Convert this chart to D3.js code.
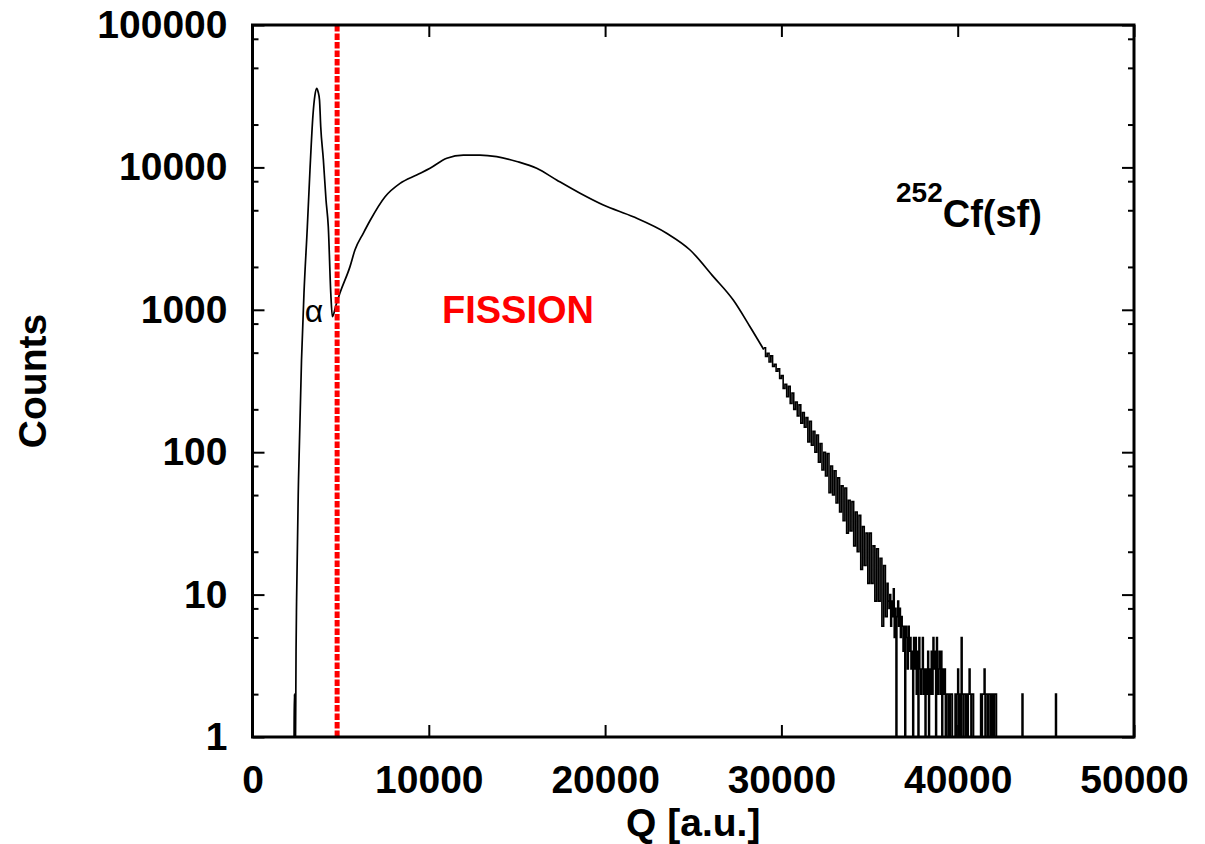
<!DOCTYPE html>
<html>
<head>
<meta charset="utf-8">
<title>252Cf(sf) charge spectrum</title>
<script src="https://cdn.jsdelivr.net/npm/d3@7"></script>
<style>
  body { margin: 0; background: #fff; }
  text { font-family: "Liberation Sans", Arial, Helvetica, sans-serif; }
</style>
</head>
<body>
<script>
// smooth part of the spectrum
var smoothQ = [2360, 2365, 2385, 2390, 2440, 2470, 2500, 2610, 2780, 2920, 3110, 3260, 3430, 3540, 3640, 3720, 3800, 3870,
  4020, 4170, 4300, 4440, 4530, 4740, 4960, 5530, 5810, 6290, 6670, 7520, 8370, 9310, 10070, 11020, 11960, 12900,
  13850, 14990, 16120, 17250, 18580, 19900, 21600, 23490, 24820, 26140, 27270, 28220, 29000];
var smoothCounts = [1, 2, 2, 1, 1, 4, 9, 64, 444, 1310, 3810, 9590, 23300, 32000, 35900, 34000, 29800, 19300,
  11300, 5900, 3810, 1310, 895, 1080, 1310, 2010, 2630, 3460, 4240, 6230, 7730, 8850, 9860, 11600, 12200, 12200,
  11900, 11000, 9860, 8160, 6580, 5440, 4500, 3450, 2630, 1710, 1170, 760, 525];

// noisy tail, binned
var tailAStart = 29000, tailAWidth = 100;
var tailACounts = [
  540, 470, 495, 430, 475, 400, 415, 370, 385, 330,
  345, 280, 300, 245, 290, 220, 260, 200, 225, 180,
  215, 160, 190, 150, 175, 118, 165, 112, 140, 100,
  132, 85, 115, 75, 100, 68, 98, 52, 80, 50,
  74, 44, 66, 38, 58, 33, 56, 27, 46, 28,
  45, 22, 38, 20, 36, 15, 30, 16, 27, 12,
  27, 12, 22, 9, 21, 9, 18, 6, 16, 7
];
var tailBStart = 36000, tailBWidth = 50;
var tailBCounts = [
  12, 9, 8, 10, 6, 9, 7, 11, 5, 8,
  1, 7, 9, 6, 8, 5, 7, 6, 4, 6,
  1, 6, 5, 3, 6, 4, 5, 3, 4, 1,
  5, 3, 5, 2, 4, 1, 5, 3, 2, 3,
  5, 2, 3, 1, 3, 2, 4, 1, 3, 2,
  4, 2, 5, 3, 4, 1, 5, 2, 3, 4,
  2, 4, 1, 3, 2, 3, 1, 2, 2, 1,
  2, 1, 2, 2, 1, 1, 1, 2, 1, 2,
  3, 1, 2, 1, 5, 2, 1, 2, 2, 1,
  2, 1, 2, 3, 2, 1, 2, 2, 1, 1,
  1, 1, 1, 1, 1, 1, 2, 1, 2, 2,
  3, 1, 2, 2, 1, 2, 2, 1, 2, 1,
  2, 1, 2, 2, 1, 1, 1, 1, 1, 1
];
var sparseQ = [43650, 45550];
var sparseCounts = [2, 2];
var tailEnd = 46000;

var cutQ = 4800;
var xTicks = [0, 10000, 20000, 30000, 40000, 50000];
var yTicks = [1, 10, 100, 1000, 10000, 100000];
var yMinor = [2, 5, 8, 20, 50, 80, 200, 500, 800, 2000, 5000, 8000, 20000, 50000, 80000];

var w = 1205, h = 844;
var plotL = 252.5, plotR = 1134, plotT = 25, plotB = 737;

var svg = d3.select("body").append("svg").attr("width", w).attr("height", h);
svg.append("rect").attr("width", w).attr("height", h).attr("fill", "#fff");

var x = d3.scaleLinear().domain([0, 50000]).range([plotL, plotR]);
var y = d3.scaleLog().domain([1, 100000]).range([plotB, plotT]);

// spectrum
var smooth = smoothQ.map(function(q, i) { return [q, smoothCounts[i]]; });
var tail = [];
tailACounts.forEach(function(c, i) { tail.push([tailAStart + i * tailAWidth, c]); });
tailBCounts.forEach(function(c, i) { tail.push([tailBStart + i * tailBWidth, c]); });
tail.push([tailBStart + tailBCounts.length * tailBWidth, 1]);
sparseQ.forEach(function(q, i) {
  tail.push([q, sparseCounts[i]]);
  tail.push([q + tailBWidth, 1]);
});
tail.push([tailEnd, 1]);

var line = d3.line()
  .x(function(d) { return x(d[0]); })
  .y(function(d) { return y(Math.max(1, d[1])); });

svg.append("path").datum(smooth)
  .attr("d", line.curve(d3.curveMonotoneX))
  .attr("fill", "none").attr("stroke", "#000").attr("stroke-width", 1.7);
svg.append("path").datum(tail)
  .attr("d", line.curve(d3.curveStepAfter))
  .attr("fill", "none").attr("stroke", "#000").attr("stroke-width", 1.6);

// alpha / fission cut
svg.append("line")
  .attr("x1", x(cutQ)).attr("x2", x(cutQ))
  .attr("y1", plotT).attr("y2", plotB)
  .attr("stroke", "#ff0000").attr("stroke-width", 5)
  .attr("stroke-dasharray", "6.5,2");

// axes, ticks pointing inward
function styleAxis(g) {
  g.select(".domain").remove();
  g.selectAll(".tick line").attr("stroke", "#000").attr("stroke-width", 2);
  g.selectAll("text").attr("font-size", 39).attr("font-weight", "bold")
    .attr("font-family", "Liberation Sans, Arial, sans-serif").attr("fill", "#000");
}
svg.append("g").attr("transform", "translate(0," + plotB + ")")
  .call(d3.axisBottom(x).tickValues(xTicks).tickFormat(d3.format("d")).tickSize(-12).tickPadding(28))
  .call(styleAxis);
svg.append("g").attr("transform", "translate(0," + plotT + ")")
  .call(d3.axisTop(x).tickValues(xTicks).tickFormat("").tickSize(-12))
  .call(styleAxis);
svg.append("g").attr("transform", "translate(" + plotL + ",0)")
  .call(d3.axisLeft(y).tickValues(yTicks).tickFormat(d3.format("d")).tickSize(-12).tickPadding(25))
  .call(styleAxis);
svg.append("g").attr("transform", "translate(" + plotL + ",0)")
  .call(d3.axisLeft(y).tickValues(yMinor).tickFormat("").tickSize(-6))
  .call(styleAxis);
svg.append("g").attr("transform", "translate(" + plotR + ",0)")
  .call(d3.axisRight(y).tickValues(yTicks).tickFormat("").tickSize(-12))
  .call(styleAxis);
svg.append("g").attr("transform", "translate(" + plotR + ",0)")
  .call(d3.axisRight(y).tickValues(yMinor).tickFormat("").tickSize(-6))
  .call(styleAxis);

svg.append("rect")
  .attr("x", plotL).attr("y", plotT)
  .attr("width", plotR - plotL).attr("height", plotB - plotT)
  .attr("fill", "none").attr("stroke", "#000").attr("stroke-width", 3);

// labels
svg.append("text")
  .attr("transform", "translate(46," + (plotT + plotB) / 2 + ") rotate(-90)")
  .attr("text-anchor", "middle").attr("font-size", 39).attr("font-weight", "bold")
  .text("Counts");
svg.append("text")
  .attr("x", (plotL + plotR) / 2).attr("y", 836)
  .attr("text-anchor", "middle").attr("font-size", 39).attr("font-weight", "bold")
  .text("Q [a.u.]");
svg.append("text")
  .attr("x", 518).attr("y", 323)
  .attr("text-anchor", "middle").attr("font-size", 38).attr("font-weight", "bold")
  .attr("fill", "#ff0000")
  .text("FISSION");
svg.append("text")
  .attr("x", 314).attr("y", 322)
  .attr("text-anchor", "middle").attr("font-size", 32)
  .text("α");
var cf = svg.append("text").attr("x", 896).attr("y", 227).attr("font-weight", "bold");
cf.append("tspan").attr("font-size", 28).attr("dy", -25).text("252");
cf.append("tspan").attr("font-size", 38).attr("dy", 25).text("Cf(sf)");
</script>
</body>
</html>
